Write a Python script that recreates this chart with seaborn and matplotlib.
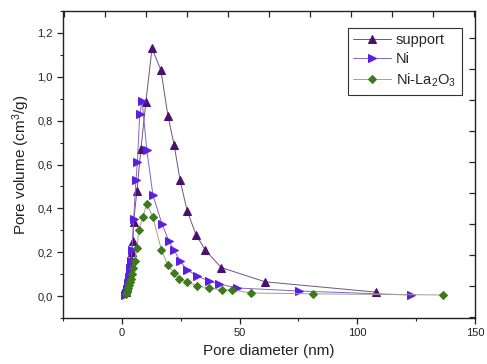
import matplotlib
matplotlib.use("Agg")
import matplotlib.pyplot as plt
from matplotlib.ticker import MultipleLocator, FuncFormatter
import seaborn as sns
import pandas as pd

support_x = [1.7, 2.0, 2.3, 2.6, 2.9, 3.2, 3.5, 3.8, 4.2, 4.7, 5.0, 6.4, 8.1, 10.2, 12.8,
             16.6, 19.6, 22.2, 24.7, 27.7, 31.5, 35.4, 42.2, 60.9, 108.0]
support_y = [0.02, 0.04, 0.06, 0.08, 0.10, 0.12, 0.14, 0.17, 0.20, 0.25, 0.34, 0.48, 0.67, 0.885, 1.13,
             1.03, 0.82, 0.69, 0.53, 0.39, 0.28, 0.21, 0.13, 0.065, 0.018]

ni_x = [1.5, 1.8, 2.1, 2.4, 2.7, 3.0, 3.3, 3.6, 3.9, 4.3, 5.0, 6.0, 6.6, 7.6, 8.6, 10.6,
        13.2, 17.0, 20.0, 22.2, 24.7, 27.7, 32.0, 37.0, 41.3, 49.0, 75.4, 122.7]
ni_y = [0.005, 0.015, 0.03, 0.045, 0.06, 0.08, 0.10, 0.13, 0.16, 0.21, 0.35, 0.53, 0.61, 0.83, 0.89, 0.665,
        0.46, 0.33, 0.25, 0.21, 0.16, 0.12, 0.09, 0.07, 0.055, 0.037, 0.023, 0.005]

nila_x = [1.8, 2.2, 2.6, 3.0, 3.4, 3.8, 4.3, 4.9, 5.5, 6.4, 7.2, 8.9, 10.6, 13.2, 16.8,
          19.6, 22.2, 24.3, 27.7, 32.0, 37.0, 42.6, 46.9, 55.0, 81.4, 136.5]
nila_y = [0.01, 0.02, 0.035, 0.05, 0.065, 0.08, 0.10, 0.13, 0.16, 0.22, 0.30, 0.36, 0.42, 0.36, 0.21,
          0.14, 0.105, 0.08, 0.065, 0.046, 0.037, 0.028, 0.028, 0.014, 0.01, 0.005]

series = [
    ("support", support_x, support_y, "^", "#4b0f6e", "#6e5482"),
    ("Ni", ni_x, ni_y, ">", "#5a1fe0", "#8466c8"),
    ("Ni-La$_2$O$_3$", nila_x, nila_y, "D", "#3d7a1c", "#9aa494"),
]

sns.set_style("ticks")
plt.rcParams["font.family"] = ["Liberation Sans", "DejaVu Sans"]
plt.rcParams["mathtext.default"] = "regular"

fig = plt.figure(figsize=(4.87, 3.64), dpi=100)
ax = fig.add_axes([63 / 487, 46 / 364, 412 / 487, 307 / 364])

for label, xs, ys, mk, mc, lc in series:
    df = pd.DataFrame({"x": xs, "y": ys})
    sns.lineplot(data=df, x="x", y="y", ax=ax, sort=False, color=lc, linewidth=0.7,
                 marker=mk, markersize=5.3 if mk != "D" else 4.3, markerfacecolor=mc,
                 markeredgecolor=mc, label=label)

ax.set_xlim(-25, 150)
ax.set_ylim(-0.1, 1.3)
ax.xaxis.set_major_locator(MultipleLocator(50))
ax.xaxis.set_minor_locator(MultipleLocator(25))
ax.yaxis.set_major_locator(MultipleLocator(0.2))
ax.yaxis.set_minor_locator(MultipleLocator(0.1))
ax.yaxis.set_major_formatter(FuncFormatter(lambda v, p: f"{v:.1f}".replace(".", ",")))
ax.tick_params(axis="both", which="major", direction="out", length=4, width=0.9,
               labelsize=8, colors="#222222")
ax.tick_params(axis="both", which="minor", direction="out", length=2.5, width=0.8)
ax.set_xlabel("Pore diameter (nm)", fontsize=11, color="#222222")
ax.set_ylabel("Pore volume (cm$^3$/g)", fontsize=11, color="#222222")
for s in ax.spines.values():
    s.set_linewidth(1.0)
    s.set_color("#222222")

# opposite axes ticks (inward, no labels)
axt = ax.twiny()
axt.set_xlim(-1.02, 9.02)
axt.xaxis.set_major_locator(MultipleLocator(1))
axt.tick_params(axis="x", direction="in", length=4, width=0.9, labeltop=False)
axr = ax.twinx()
axr.set_ylim(-1.03, 8.87)
axr.yaxis.set_major_locator(MultipleLocator(1))
axr.tick_params(axis="y", direction="in", length=4, width=0.9, labelright=False)
for a in (axt, axr):
    for s in a.spines.values():
        s.set_visible(False)

leg = ax.legend(loc="upper right", bbox_to_anchor=(0.985, 0.97), fontsize=10.5,
                frameon=True, fancybox=False, framealpha=1, edgecolor="#333333",
                handlelength=2.6, borderpad=0.4, labelspacing=0.35, handletextpad=0.3)
leg.get_frame().set_linewidth(0.8)

fig.savefig("out.png", dpi=100)
